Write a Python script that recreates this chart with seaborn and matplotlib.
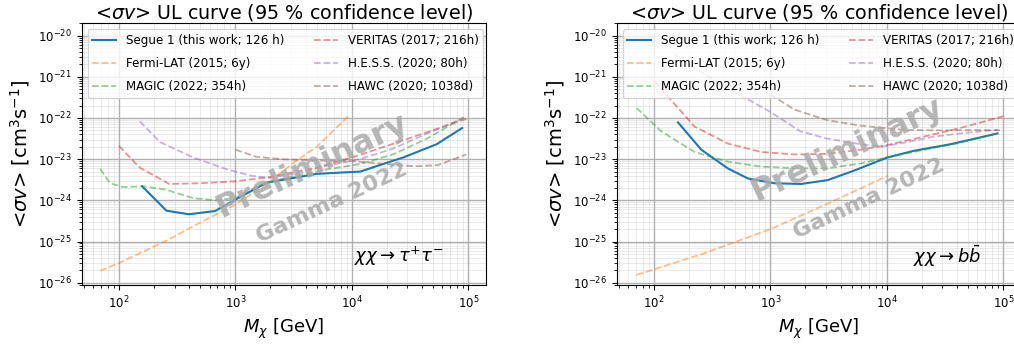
import numpy as np
import pandas as pd
import matplotlib
matplotlib.use("Agg")
import matplotlib.pyplot as plt
import seaborn as sns

# ---------------- data: chi chi -> tau+ tau- ----------------
tau_segue_m = [158, 256, 400, 668, 960, 1860, 5000, 11800, 18700, 27600, 53300, 88500]
tau_segue_sv = [2.2e-24, 5.6e-25, 4.6e-25, 5.5e-25, 9.8e-25, 2.7e-24, 4.4e-24, 5.0e-24, 7.7e-24, 1.1e-23, 2.3e-23, 5.7e-23]

tau_fermi_m = [69, 100, 256, 500, 960, 1860, 3300, 5000, 9400]
tau_fermi_sv = [1.95e-26, 3.0e-26, 1.05e-25, 2.9e-25, 7.4e-25, 2.5e-24, 9.0e-24, 2.0e-23, 1.14e-22]

tau_magic_m = [69, 84, 109, 162, 256, 434, 700, 1000, 1600, 3000, 6000, 11700, 22500, 43600, 92000]
tau_magic_sv = [5.8e-24, 2.6e-24, 2.1e-24, 2.2e-24, 1.8e-24, 1.13e-24, 1.0e-24, 1.15e-24, 2.3e-24, 3.8e-24, 5.6e-24, 7.6e-24, 1.3e-23, 3.1e-23, 1.05e-22]

tau_veritas_m = [100, 150, 270, 500, 1000, 2000, 5000, 10000, 20000, 45000, 96000]
tau_veritas_sv = [2.1e-23, 6.3e-24, 2.5e-24, 2.6e-24, 2.9e-24, 3.7e-24, 6.3e-24, 1.1e-23, 2.1e-23, 4.6e-23, 9.5e-23]

tau_hess_m = [151, 225, 434, 840, 1340, 2000, 4000, 6000, 11700, 22500, 43600, 91000]
tau_hess_sv = [8.3e-23, 2.6e-23, 1.1e-23, 5.7e-24, 4.0e-24, 3.5e-24, 5.0e-24, 6.9e-24, 1.0e-23, 1.8e-23, 4.1e-23, 1.0e-22]

tau_hawc_m = [1000, 1500, 2500, 5000, 10000, 20000, 35000, 55000, 96000]
tau_hawc_sv = [1.7e-23, 1.15e-23, 1.0e-23, 9.3e-24, 9.0e-24, 7.6e-24, 6.7e-24, 7.2e-24, 1.3e-23]

# ---------------- data: chi chi -> b bbar ----------------
bb_segue_m = [161, 255, 430, 640, 1080, 1830, 3100, 5250, 10100, 17100, 35000, 89000]
bb_segue_sv = [7.8e-23, 1.7e-23, 6.0e-24, 3.4e-24, 2.6e-24, 2.5e-24, 3.1e-24, 5.3e-24, 1.1e-23, 1.6e-23, 2.3e-23, 4.2e-23]

bb_fermi_m = [71, 255, 1000, 3100, 10100]
bb_fermi_sv = [1.55e-26, 4.9e-26, 2.0e-25, 8.3e-25, 3.9e-24]

bb_magic_m = [71, 116, 223, 430, 830, 1610, 3100, 5980, 10100, 20000, 40000, 89000]
bb_magic_sv = [1.75e-22, 4.7e-23, 1.5e-23, 8.7e-24, 6.6e-24, 6.0e-24, 6.0e-24, 7.9e-24, 1.1e-23, 1.65e-23, 2.4e-23, 4.3e-23]

bb_veritas_m = [100, 223, 430, 830, 1610, 3100, 5980, 10100, 22300, 42500, 100000]
bb_veritas_sv = [8e-22, 6.2e-23, 2.4e-23, 1.5e-23, 1.3e-23, 1.35e-23, 1.7e-23, 2.2e-23, 3.7e-23, 5.7e-23, 1.1e-22]

bb_hess_m = [150, 200, 400, 1000, 1800, 3000, 6000, 9000, 15000, 25000, 45000, 90000]
bb_hess_sv = [3.5e-21, 2.0e-21, 6e-22, 1.4e-22, 4.8e-23, 3.2e-23, 2.3e-23, 2.0e-23, 2.6e-23, 3.5e-23, 4.3e-23, 5.2e-23]

bb_hawc_m = [1000, 1610, 3100, 5980, 10100, 15000, 30000, 60000, 100000]
bb_hawc_sv = [3.7e-22, 1.6e-22, 8.8e-23, 6.5e-23, 5.6e-23, 5.1e-23, 5.0e-23, 5.1e-23, 5.0e-23]

labels = ["Segue 1 (this work; 126 h)", "Fermi-LAT (2015; 6y)", "MAGIC (2022; 354h)",
          "VERITAS (2017; 216h)", "H.E.S.S. (2020; 80h)", "HAWC (2020; 1038d)"]

tau_sets = [(tau_segue_m, tau_segue_sv), (tau_fermi_m, tau_fermi_sv), (tau_magic_m, tau_magic_sv),
            (tau_veritas_m, tau_veritas_sv), (tau_hess_m, tau_hess_sv), (tau_hawc_m, tau_hawc_sv)]
bb_sets = [(bb_segue_m, bb_segue_sv), (bb_fermi_m, bb_fermi_sv), (bb_magic_m, bb_magic_sv),
           (bb_veritas_m, bb_veritas_sv), (bb_hess_m, bb_hess_sv), (bb_hawc_m, bb_hawc_sv)]

colors = sns.color_palette("tab10", 6)

fig = plt.figure(figsize=(10.14, 3.49), dpi=100)
ax1 = fig.add_axes([0.0806, 0.1834, 0.3984, 0.750])
ax2 = fig.add_axes([0.6082, 0.1834, 0.3984, 0.750])


def draw(ax, sets, channel, prelim_xy, gamma_xy, chan_xy):
    for i, ((m, sv), lab) in enumerate(zip(sets, labels)):
        df = pd.DataFrame({"M": m, "sv": sv})
        if i == 0:
            sns.lineplot(data=df, x="M", y="sv", ax=ax, color=colors[i], lw=1.5,
                         label=lab, estimator=None, sort=False)
        else:
            sns.lineplot(data=df, x="M", y="sv", ax=ax, color=colors[i], lw=1.3,
                         linestyle="--", alpha=0.5, label=lab, estimator=None, sort=False)
    ax.set_xscale("log")
    ax.set_yscale("log")
    ax.set_xlim(47.9, 1.41e5)
    ax.set_ylim(8.8e-27, 2.0e-20)
    ax.grid(True, which="major", color="#b0b0b0", lw=1.0)
    ax.grid(True, which="minor", color="#b0b0b0", lw=0.6, alpha=0.3)
    ax.tick_params(labelsize=8.5)
    ax.set_xlabel(r"$M_\chi$ [GeV]", fontsize=13)
    ax.set_ylabel(r"<$\sigma v$> [cm$^3$s$^{-1}$]", fontsize=14)
    ax.set_title(r"<$\sigma v$> UL curve (95 % confidence level)", fontsize=13.8, pad=2)
    ax.legend(ncol=2, loc="upper left", fontsize=8.6, columnspacing=2.5, labelspacing=0.85)
    ax.text(*prelim_xy, "Preliminary", transform=ax.transAxes, rotation=25, fontsize=23,
            fontweight="bold", color="#a9a9a9", alpha=0.85, ha="center", va="center")
    ax.text(*gamma_xy, "Gamma 2022", transform=ax.transAxes, rotation=25, fontsize=16,
            fontweight="bold", color="#a9a9a9", alpha=0.85, ha="center", va="center")
    ax.text(*chan_xy, channel, transform=ax.transAxes, fontsize=13, ha="left", va="center")


draw(ax1, tau_sets, r"$\chi\chi \rightarrow \tau^{+}\tau^{-}$", (0.57, 0.455), (0.62, 0.315), (0.675, 0.11))
draw(ax2, bb_sets, r"$\chi\chi \rightarrow b\bar{b}$", (0.57, 0.515), (0.625, 0.33), (0.733, 0.11))

fig.savefig("out.png", dpi=100)
